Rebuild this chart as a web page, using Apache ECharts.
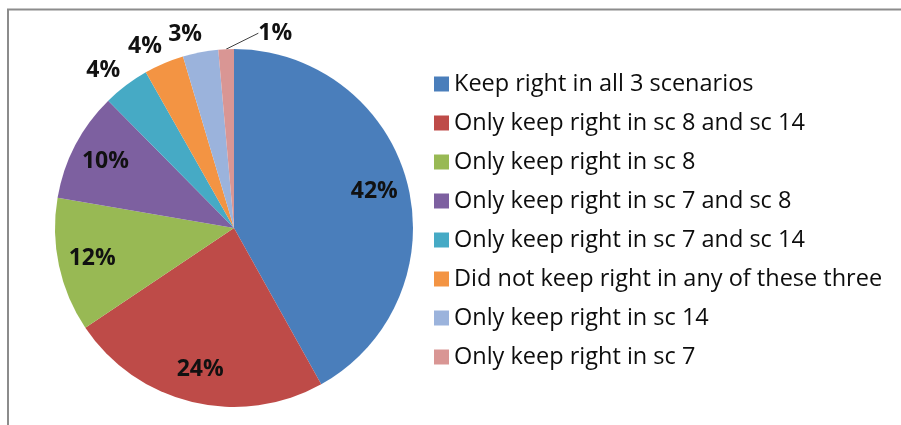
<!DOCTYPE html>
<html>
<head>
<meta charset="utf-8">
<script src="https://cdn.jsdelivr.net/npm/echarts@6/dist/echarts.min.js"></script>
<style>
  html, body { margin: 0; padding: 0; background: #ffffff; }
  #keepright { width: 901px; height: 425px; }
</style>
</head>
<body>
<div id="keepright"></div>
<script>
// categories in legend order (clockwise from 12 o'clock)
var categories = [
  'Keep right in all 3 scenarios',
  'Only keep right in sc 8 and sc 14',
  'Only keep right in sc 8',
  'Only keep right in sc 7 and sc 8',
  'Only keep right in sc 7 and sc 14',
  'Did not keep right in any of these three',
  'Only keep right in sc 14',
  'Only keep right in sc 7'
]
// share of respondents, %
var shares = [41.9, 23.7, 12.1, 9.9, 4.2, 3.6, 3.2, 1.4]
var colors = ['#4a7ebb', '#be4b48', '#98b954', '#7d60a0', '#46aac5', '#f39443', '#9bb3dc', '#d99694']

var myChart = echarts.init(document.getElementById('keepright'))

var pieData = categories.map(function(name, i) {
  return { name: name, value: shares[i] }
})

// label ring: big slices labelled inside, small ones outside
var labelData = categories.map(function(name, i) {
  var item = { name: name, value: shares[i] }
  if (i >= 4) {
    item.label = { position: 'outside' }
  }
  if (i === 7) {
    item.labelLine = { show: true, lineStyle: { color: '#404040', width: 1 } }
  }
  return item
})

var option = {
  backgroundColor: '#ffffff',
  animation: false,
  color: colors,
  graphic: [
    {
      type: 'rect',
      silent: true,
      shape: { x: 8, y: 9.5, width: 1000, height: 600 },
      style: { fill: 'none', stroke: '#8c8c8c', lineWidth: 2 }
    }
  ],
  legend: {
    data: categories,
    orient: 'vertical',
    left: 434,
    top: 72,
    padding: 0,
    itemGap: 15,
    itemWidth: 15,
    itemHeight: 15,
    icon: 'rect',
    selectedMode: false,
    textStyle: {
      fontFamily: 'Open Sans',
      fontSize: 23.5,
      lineHeight: 24,
      color: '#0d0d0d'
    }
  },
  series: [
    {
      type: 'pie',
      center: [234, 228],
      radius: 179,
      startAngle: 90,
      clockwise: true,
      silent: true,
      label: { show: false },
      labelLine: { show: false },
      itemStyle: { borderWidth: 0 },
      data: pieData
    },
    {
      type: 'pie',
      center: [234, 228],
      radius: [105, 179],
      startAngle: 90,
      clockwise: true,
      silent: true,
      avoidLabelOverlap: false,
      itemStyle: { color: 'transparent', borderWidth: 0 },
      label: {
        show: true,
        position: 'inside',
        distanceToLabelLine: -5,
        fontFamily: 'Open Sans',
        fontWeight: 'bold',
        fontSize: 23,
        color: '#111111',
        formatter: function(params) {
          return Math.round(params.value) + '%'
        }
      },
      labelLine: { show: false, length: 18, length2: 0 },
      labelLayout: function(params) {
        if (params.dataIndex === 7) {
          var r = params.labelRect
          return {
            x: r.x + r.width + 28,
            y: r.y + r.height / 2 + 2,
            align: 'left',
            verticalAlign: 'middle'
          }
        }
      },
      data: labelData
    }
  ]
}

myChart.setOption(option, true)
window.addEventListener('resize', () => {
  myChart.resize()
})
</script>
</body>
</html>
